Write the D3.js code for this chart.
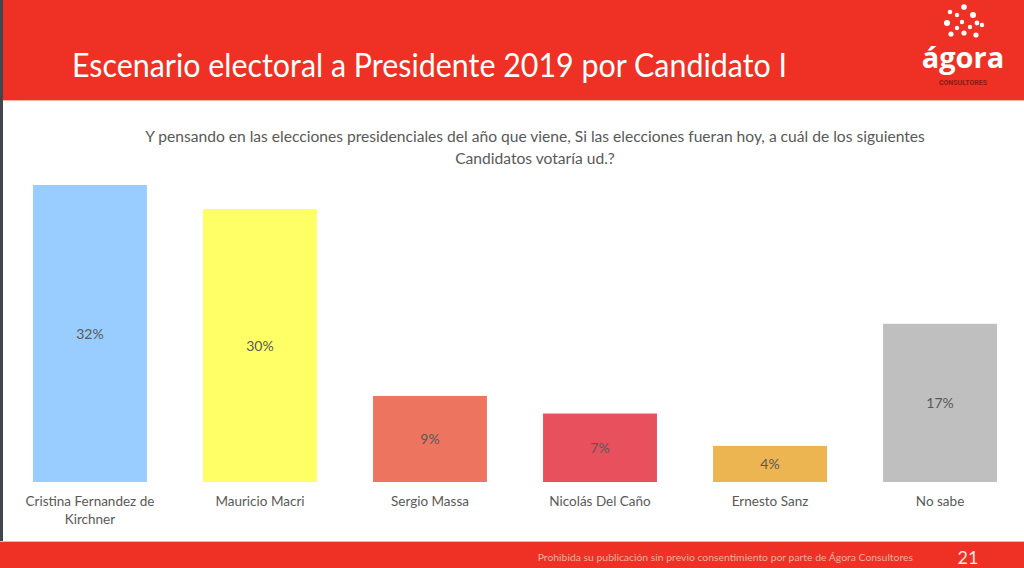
<!DOCTYPE html>
<html>
<head>
<meta charset="utf-8">
<script src="https://cdn.jsdelivr.net/npm/d3@7"></script>
<style>
  body { margin: 0; background: #fff; }
  svg { display: block; }
</style>
</head>
<body>
<div id="chart"></div>
<script>
// datos del grafico
var candidatos = ["Cristina Fernandez de|Kirchner", "Mauricio Macri", "Sergio Massa", "Nicolás Del Caño", "Ernesto Sanz", "No sabe"];
var valores = [32.1, 29.5, 9.3, 7.4, 3.9, 17.1];
var colores = ["#99CCFF", "#FFFF66", "#ED7560", "#E9505E", "#EDB452", "#BFBFBF"];
var titulo = "Escenario electoral a Presidente 2019 por Candidato I";
var pregunta = ["Y pensando en las elecciones presidenciales del año que viene, Si las elecciones fueran hoy, a cuál de los siguientes",
                "Candidatos votaría ud.?"];
var pie = "Prohibida su publicación sin previo consentimiento por parte de Ágora Consultores";
var pagina = "21";

var width = 1024, height = 568;
var rojo = "#EE3124";
var gris = "#595959";

var svg = d3.select("#chart").append("svg")
    .attr("width", width)
    .attr("height", height);

// cabecera
svg.append("rect").attr("x", 0).attr("y", 0).attr("width", width).attr("height", 100).attr("fill", rojo);
svg.append("line").attr("x1", 0).attr("x2", width).attr("y1", 100.5).attr("y2", 100.5)
    .style("stroke", "#f6b3ab").style("stroke-width", 1);
svg.append("text")
    .attr("x", 72).attr("y", 77)
    .attr("fill", "#fff")
    .attr("textLength", 715)
    .attr("lengthAdjust", "spacingAndGlyphs")
    .style("font-family", "Lato, 'Open Sans', sans-serif")
    .style("font-size", "33px")
    .text(titulo);

// logo
var logo = svg.append("g");
var puntos = [[964,7,2.8],[950,12,2.3],[957,15,2.2],[973,15,3],[947,23,3],[962,22,2.2],[977,23,2.4],[957,28,2.2],[970,27,2.2],[982,25,2.2],[951,34,2.6],[964,33,2.6],[976,35,2.6]];
logo.selectAll("circle").data(puntos).enter().append("circle")
    .attr("cx", d => d[0]).attr("cy", d => d[1]).attr("r", d => d[2])
    .attr("fill", "#fff");
logo.append("text")
    .attr("x", 963).attr("y", 68)
    .attr("text-anchor", "middle")
    .attr("fill", "#fff")
    .style("font-family", "'Open Sans', sans-serif")
    .style("font-weight", "bold")
    .style("font-size", "29px")
    .text("ágora");
logo.append("text")
    .attr("x", 963).attr("y", 85)
    .attr("text-anchor", "middle")
    .attr("fill", "#8B1A14")
    .style("font-family", "'Liberation Sans Narrow', 'Roboto', sans-serif")
    .style("font-weight", "bold")
    .style("font-size", "7px")
    .text("CONSULTORES");

// barra izquierda oscura
svg.append("rect").attr("x", 0).attr("y", 0).attr("width", 3).attr("height", height).attr("fill", "#42464a");

// pregunta
svg.selectAll(".preg").data(pregunta).enter().append("text")
    .attr("class", "preg")
    .attr("x", 535)
    .attr("y", (d, i) => 142 + i * 22)
    .attr("text-anchor", "middle")
    .attr("fill", gris)
    .style("font-family", "Lato, 'Open Sans', sans-serif")
    .style("font-size", "15.6px")
    .text(d => d);

// escalas
var x = d3.scaleBand()
    .domain(candidatos)
    .range([33, 997])
    .paddingInner(0.33)
    .paddingOuter(0);

var y = d3.scaleLinear()
    .domain([0, d3.max(valores)])
    .range([482, 185]);

var g = svg.append("g");
g.selectAll("rect").data(valores).enter().append("rect")
    .attr("x", (d, i) => x(candidatos[i]))
    .attr("y", d => y(d))
    .attr("width", x.bandwidth())
    .attr("height", d => y(0) - y(d))
    .attr("fill", (d, i) => colores[i]);

// etiquetas de valor
g.selectAll(".val").data(valores).enter().append("text")
    .attr("class", "val")
    .attr("x", (d, i) => x(candidatos[i]) + x.bandwidth() / 2)
    .attr("y", d => (y(d) + y(0)) / 2 + 5)
    .attr("text-anchor", "middle")
    .attr("fill", gris)
    .style("font-family", "Lato, 'Open Sans', sans-serif")
    .style("font-size", "14px")
    .text(d => Math.round(d) + "%");

// etiquetas de categoria
var cat = g.selectAll(".cat").data(candidatos).enter().append("text")
    .attr("class", "cat")
    .attr("text-anchor", "middle")
    .attr("fill", gris)
    .style("font-family", "Lato, 'Open Sans', sans-serif")
    .style("font-size", "13.5px");
cat.each(function(d) {
    var t = d3.select(this);
    d.split("|").forEach(function(linea, i) {
        t.append("tspan")
            .attr("x", x(d) + x.bandwidth() / 2)
            .attr("y", 506 + i * 18)
            .text(linea);
    });
});

// pie de pagina
svg.append("rect").attr("x", 0).attr("y", 542).attr("width", width).attr("height", 26).attr("fill", rojo);
svg.append("line").attr("x1", 0).attr("x2", width).attr("y1", 541.5).attr("y2", 541.5)
    .style("stroke", "#f6b3ab").style("stroke-width", 1);
svg.append("text")
    .attr("x", 913).attr("y", 561)
    .attr("text-anchor", "end")
    .attr("fill", "#f7aea5")
    .style("font-family", "'Liberation Sans Narrow', Lato, sans-serif")
    .style("font-size", "10.4px")
    .text(pie);
svg.append("text")
    .attr("x", 968).attr("y", 564)
    .attr("text-anchor", "middle")
    .attr("fill", "#fbe3e0")
    .style("font-family", "Lato, sans-serif")
    .style("font-size", "18px")
    .text(pagina);
</script>
</body>
</html>
